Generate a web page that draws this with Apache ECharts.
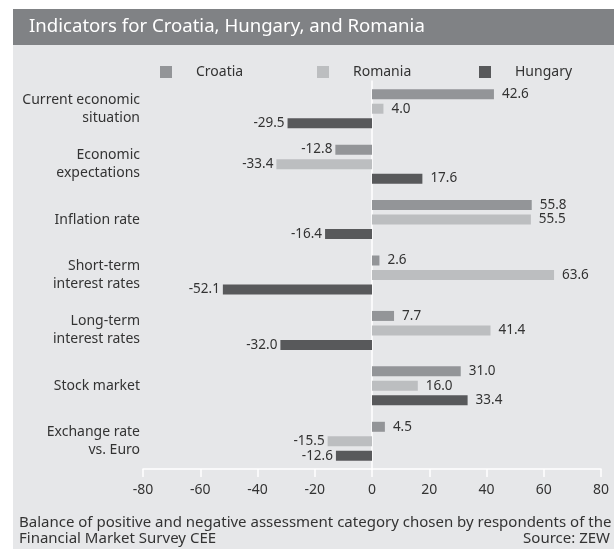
<!DOCTYPE html>
<html>
<head>
<meta charset="utf-8">
<script src="https://cdn.jsdelivr.net/npm/echarts@6/dist/echarts.min.js"></script>
<style>
  html, body { margin: 0; padding: 0; background: #fff; }
  #chart { width: 614px; height: 549px; }
</style>
</head>
<body>
<div id="chart"></div>
<script>
// categories, top to bottom
const categories = [
  'Current economic\nsituation',
  'Economic\nexpectations',
  'Inflation rate',
  'Short-term\ninterest rates',
  'Long-term\ninterest rates',
  'Stock market',
  'Exchange rate\nvs. Euro'
]

const croatia = [42.6, -12.8, 55.8, 2.6, 7.7, 31.0, 4.5]
const romania = [4.0, -33.4, 55.5, 63.6, 41.4, 16.0, -15.5]
const hungary = [-29.5, 17.6, -16.4, -52.1, -32.0, 33.4, -12.6]

const xTicks = [-80, -60, -40, -20, 0, 20, 40, 60, 80]

const textColor = '#333333'
const fontFamily = '"Noto Sans", "Open Sans", sans-serif'

// negative values get the label on the left side of the bar
const withLabels = (arr) => arr.map(v => ({
  value: v,
  label: v < 0
    ? { position: 'left', distance: 3 }
    : { position: 'right', distance: 8 }
}))

const makeSeries = (name, data, color) => ({
  name: name,
  type: 'bar',
  data: withLabels(data),
  barWidth: 10,
  barGap: '45%',
  itemStyle: { color: color },
  label: {
    show: true,
    color: textColor,
    fontSize: 13.5,
    fontFamily: fontFamily,
    formatter: (p) => p.value.toFixed(1)
  }
})

const legendItem = (name, left) => ({
  data: [name],
  left: left,
  top: 60,
  itemWidth: 12,
  itemHeight: 12,
  icon: 'rect',
  selectedMode: false,
  textStyle: {
    color: textColor,
    fontSize: 14,
    fontFamily: fontFamily,
    padding: [0, 0, 0, 19]
  }
})

const chart = echarts.init(document.getElementById('chart'))

const option = {
  backgroundColor: '#ffffff',
  animation: false,
  graphic: [
    {
      type: 'rect',
      z: -10,
      shape: { x: 13, y: 9, width: 601, height: 540 },
      style: { fill: '#e6e7e9' }
    },
    {
      type: 'rect',
      z: -9,
      shape: { x: 13, y: 9, width: 601, height: 36 },
      style: { fill: '#808285' }
    },
    {
      type: 'text',
      left: 29,
      top: 17,
      style: {
        text: 'Indicators for Croatia, Hungary, and Romania',
        fill: '#ffffff',
        fontSize: 18.6,
        fontFamily: fontFamily
      }
    },
    {
      type: 'text',
      left: 19,
      top: 515,
      style: {
        text: 'Balance of positive and negative assessment category chosen by respondents of the',
        fill: textColor,
        fontSize: 15,
        fontFamily: fontFamily
      }
    },
    {
      type: 'text',
      left: 19,
      top: 531,
      style: {
        text: 'Financial Market Survey CEE',
        fill: textColor,
        fontSize: 15,
        fontFamily: fontFamily
      }
    },
    {
      type: 'text',
      right: 4,
      top: 531,
      style: {
        text: 'Source: ZEW',
        fill: textColor,
        fontSize: 15,
        fontFamily: fontFamily,
        align: 'right'
      }
    }
  ],
  legend: [
    legendItem('Croatia', 155),
    legendItem('Romania', 312),
    legendItem('Hungary', 474)
  ],
  grid: {
    left: 143,
    right: 13,
    top: 81,
    bottom: 80,
    containLabel: false
  },
  xAxis: {
    type: 'value',
    min: xTicks[0],
    max: xTicks[xTicks.length - 1],
    interval: 20,
    axisLine: { show: true, onZero: false, lineStyle: { color: '#ffffff', width: 1.5 } },
    axisTick: { show: true, length: 8, inside: false, lineStyle: { color: '#ffffff', width: 1.5 } },
    splitLine: { show: false },
    axisLabel: {
      color: textColor,
      fontSize: 14,
      fontFamily: fontFamily,
      margin: 14
    }
  },
  yAxis: {
    type: 'category',
    data: categories,
    inverse: true,
    axisLine: { show: true, onZero: true, lineStyle: { color: '#ffffff', width: 1.5 } },
    axisTick: { show: false },
    axisLabel: {
      color: textColor,
      fontSize: 14,
      fontFamily: fontFamily,
      lineHeight: 18,
      align: 'right',
      margin: 3
    }
  },
  series: [
    makeSeries('Croatia', croatia, '#939598'),
    makeSeries('Romania', romania, '#bcbec0'),
    makeSeries('Hungary', hungary, '#58595b')
  ]
}

chart.setOption(option)
</script>
</body>
</html>
